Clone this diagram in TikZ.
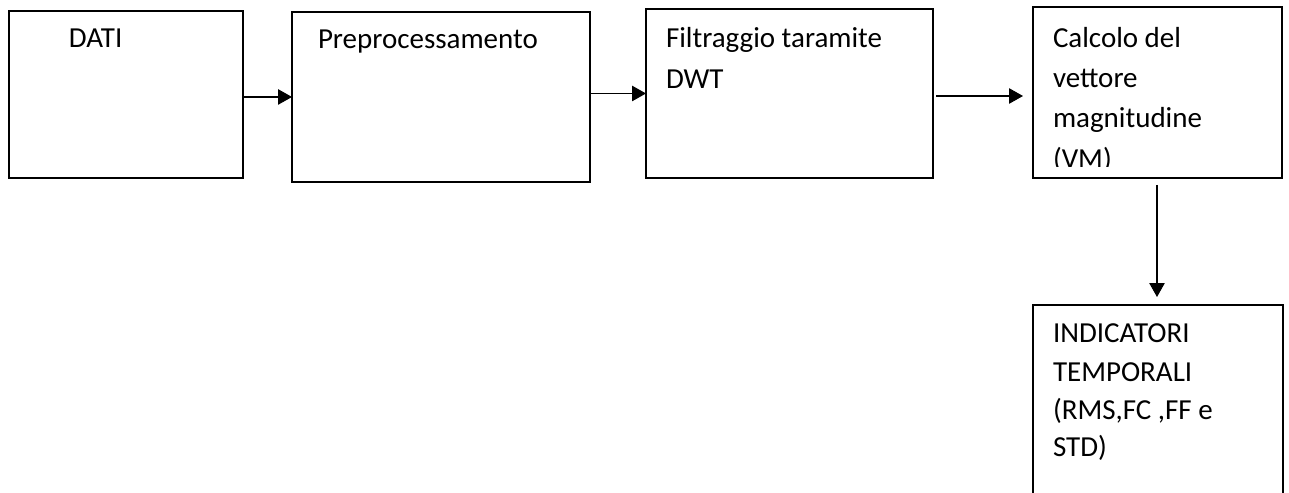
\documentclass[tikz,border=0pt]{standalone}
\usepackage{fontspec}
\setmainfont{Carlito}
\usetikzlibrary{arrows.meta}
\begin{document}
\begin{tikzpicture}[x=0.02cm,y=-0.02cm,
  box/.style={draw,line width=0.9pt,anchor=north west,inner sep=0pt,outer sep=0pt},
  txt/.style={anchor=base west,inner sep=0pt,outer sep=0pt,font=\fontsize{16.5}{20}\selectfont},
  arr/.style={-{Triangle[length=0.28cm,width=0.31cm]},line width=0.6pt}]
\useasboundingbox (0,0) rectangle (1289,493);
\clip (0,0) rectangle (1289,493);
% boxes
\node[box,minimum width=4.68cm,minimum height=3.34cm] (dati) at (9,11) {};
\node[box,minimum width=5.96cm,minimum height=3.40cm] (prep) at (292,12) {};
\node[box,minimum width=5.74cm,minimum height=3.38cm] (filt) at (646,9) {};
\node[box,minimum width=4.98cm,minimum height=3.42cm] (calc) at (1033,7) {};
\node[box,minimum width=5.00cm,minimum height=4.60cm] (ind) at (1033,305) {};
% texts
\node[txt] (t1) at (69,48) {DATI};
\node[txt] (t2) at (318,49) {Preprocessamento};
\node[txt] (t3a) at (666,48) {Filtraggio taramite};
\node[txt] (t3b) at (666,89) {DWT};
\begin{scope}
\clip (1033,7) rectangle (1283,167);
\node[txt] (t4a) at (1053,48) {Calcolo del};
\node[txt] (t4b) at (1053,88) {vettore};
\node[txt] (t4c) at (1053,128) {magnitudine};
\node[txt] (t4d) at (1053,169) {(VM)};
\end{scope}
\node[txt] (t5a) at (1053,343) {INDICATORI};
\node[txt] (t5b) at (1053,381) {TEMPORALI};
\node[txt] (t5c) at (1053,419) {(RMS,FC ,FF e};
\node[txt] (t5d) at (1053,457) {STD)};
% connectors
\coordinate (a3s) at (936,96);
\coordinate (a3e) at (1023,96);
\coordinate (a4s) at (1157,185);
\coordinate (a4e) at (1157,297);
\draw[arr] (dati.east |- prep.west) -- (prep.west);
\draw[arr] (prep.east |- filt.west) -- (filt.west);
\draw[arr] (a3s) -- (a3e);
\draw[arr] (a4s) -- (a4e);
\end{tikzpicture}
\end{document}
